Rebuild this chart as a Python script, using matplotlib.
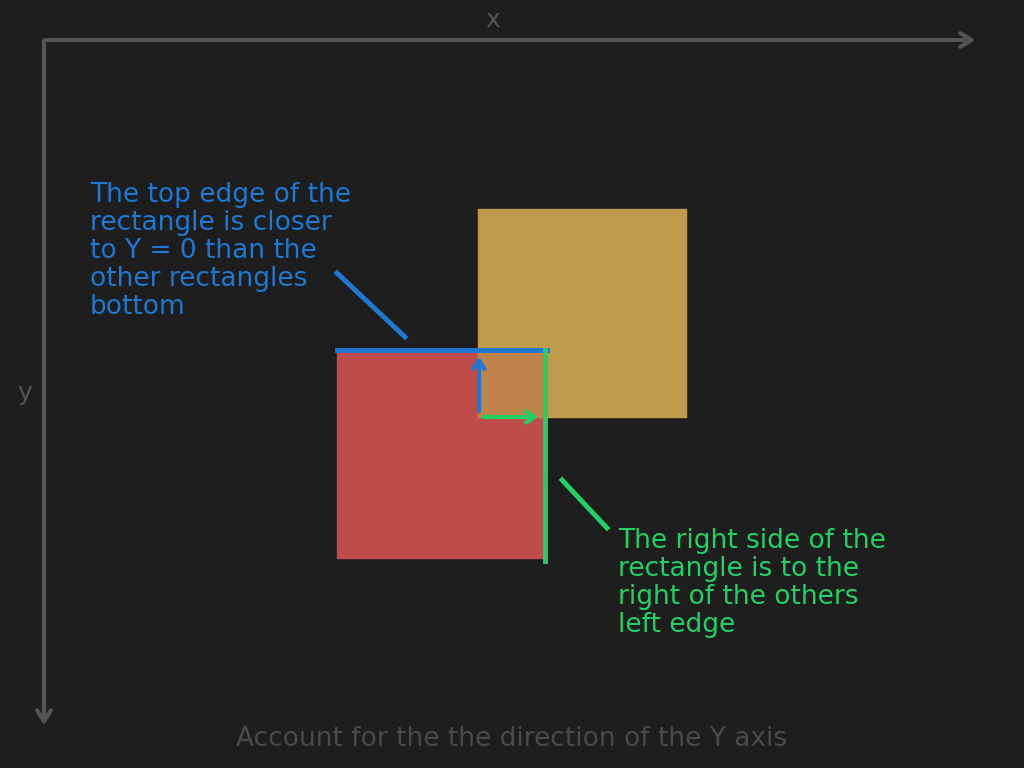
import matplotlib
matplotlib.use("Agg")
import matplotlib.pyplot as plt
from matplotlib.patches import Rectangle

# Rectangles (x, y, w, h) in screen pixels, y downward
rect_names = ["red", "gold"]
rect_x = [337, 478]
rect_y = [350, 209]
rect_size = [208, 208]
rect_colors = ["#bf4b4b", "#bf9a4b"]

fig = plt.figure(figsize=(10.24, 7.68), dpi=100)
fig.patch.set_facecolor("#1e1e1e")
ax = fig.add_axes([0, 0, 1, 1])
ax.set_facecolor("#1e1e1e")
ax.set_xlim(0, 1024)
ax.set_ylim(768, 0)
ax.axis("off")

gray = "#555555"
ax.annotate("", xy=(978, 40), xytext=(42, 40),
            arrowprops=dict(arrowstyle="->,head_length=0.8,head_width=0.5", color=gray, lw=3))
ax.annotate("", xy=(44, 728), xytext=(44, 38),
            arrowprops=dict(arrowstyle="->,head_length=0.8,head_width=0.5", color=gray, lw=3))
ax.text(493, 20, "x", color=gray, fontsize=18, ha="center", va="center")
ax.text(25, 393, "y", color=gray, fontsize=18, ha="center", va="center")

for x, y, s, c in zip(rect_x, rect_y, rect_size, rect_colors):
    ax.add_patch(Rectangle((x, y), s, s, color=c, zorder=2))
# overlap
ox, oy = rect_x[1], rect_y[0]
ax.add_patch(Rectangle((ox, oy), rect_x[0] + rect_size[0] - ox, rect_y[1] + rect_size[1] - oy,
                       color="#bf834b", zorder=3))

blue = "#1f78d1"
green = "#22d066"
ax.plot([337, 547], [350, 350], color=blue, lw=3.5, zorder=4)
ax.plot([337, 405], [273, 337], color=blue, lw=3.5, zorder=4)
ax.annotate("", xy=(479, 354), xytext=(479, 414),
            arrowprops=dict(arrowstyle="->,head_length=0.6,head_width=0.4", color=blue, lw=3), zorder=5)
ax.plot([545, 545], [350, 561], color=green, lw=3.5, zorder=4)
ax.annotate("", xy=(541, 417), xytext=(481, 417),
            arrowprops=dict(arrowstyle="->,head_length=0.6,head_width=0.4", color=green, lw=3), zorder=5)
ax.plot([562, 607], [480, 528], color=green, lw=3.5, zorder=4)

ax.text(90, 182, "The top edge of the\nrectangle is closer\nto Y = 0 than the\nother rectangles\nbottom",
        color=blue, fontsize=19, ha="left", va="top", linespacing=1.1)
ax.text(618, 528, "The right side of the\nrectangle is to the\nright of the others\nleft edge",
        color=green, fontsize=19, ha="left", va="top", linespacing=1.1)
ax.text(512, 739, "Account for the the direction of the Y axis", color="#4a4a4a",
        fontsize=19, ha="center", va="center")

fig.savefig("out.png", dpi=100, facecolor=fig.get_facecolor())
